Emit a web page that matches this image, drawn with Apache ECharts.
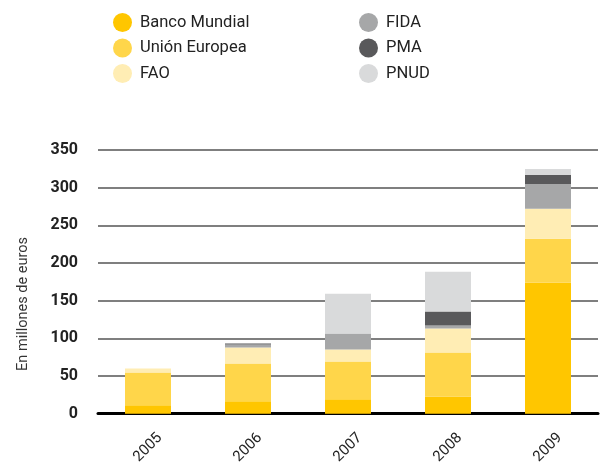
<!DOCTYPE html>
<html>
<head>
<meta charset="utf-8">
<script src="https://cdn.jsdelivr.net/npm/echarts@6/dist/echarts.min.js"></script>
<style>
  html, body { margin: 0; padding: 0; background: #fff; }
  #chart { width: 616px; height: 467px; }
</style>
</head>
<body>
<div id="chart"></div>
<script>
// datos (millones de euros)
var years = ['2005', '2006', '2007', '2008', '2009'];
var bancoMundial  = [11, 16.3, 19, 22.9, 173.9];
var unionEuropea  = [43.7, 50.3, 50.3, 58.3, 58.3];
var fao           = [5.3, 21.2, 15.9, 31.8, 39.7];
var fida          = [0, 4, 21.2, 4, 33.1];
var pma           = [0, 1.3, 0, 18.5, 11.9];
var pnud          = [0, 0, 52.9, 53, 7.9];
var yTicks = [0, 50, 100, 150, 200, 250, 300, 350];

var font = 'Roboto';
var colors = ['#FFC600', '#FFD64A', '#FFEDB4', '#A6A7A8', '#59595B', '#D9DADB'];

function serie(name, data) {
  return {
    name: name,
    type: 'bar',
    stack: 'total',
    barWidth: 46,
    data: data
  };
}

function leyenda(left, names) {
  return {
    left: left, top: 8,
    orient: 'vertical',
    icon: 'circle',
    itemWidth: 19, itemHeight: 19,
    itemGap: 6.5,
    textStyle: { fontSize: 16.5, color: '#222', fontFamily: font, padding: [0, 0, 0, 3] },
    data: names
  };
}

var chart = echarts.init(document.getElementById('chart'));

var option = {
  animation: false,
  color: colors,
  textStyle: { fontFamily: font },
  legend: [
    leyenda(108, ['Banco Mundial', 'Unión Europea', 'FAO']),
    leyenda(354, ['FIDA', 'PMA', 'PNUD'])
  ],
  grid: { left: 98, width: 500, top: 150, bottom: 52 },
  xAxis: {
    type: 'category',
    data: years,
    axisLine: { lineStyle: { color: '#000', width: 3 } },
    axisTick: { show: false },
    axisLabel: {
      rotate: 45,
      align: 'center',
      verticalAlign: 'middle',
      margin: 34,
      fontSize: 15,
      color: '#222',
      fontFamily: font
    }
  },
  yAxis: {
    type: 'value',
    min: yTicks[0],
    max: yTicks[yTicks.length - 1],
    interval: 50,
    axisLine: { show: false },
    axisTick: { show: false },
    axisLabel: {
      margin: 20,
      fontSize: 16,
      fontWeight: 'bold',
      color: '#222',
      fontFamily: font
    },
    splitLine: { lineStyle: { color: '#555', width: 1.5 } }
  },
  graphic: [
    {
      type: 'text',
      x: 23, y: 304,
      rotation: Math.PI / 2,
      style: {
        text: 'En millones de euros',
        fontSize: 14.5,
        fontFamily: font,
        fill: '#333',
        align: 'center',
        verticalAlign: 'middle'
      }
    }
  ],
  series: [
    serie('Banco Mundial', bancoMundial),
    serie('Unión Europea', unionEuropea),
    serie('FAO', fao),
    serie('FIDA', fida),
    serie('PMA', pma),
    serie('PNUD', pnud)
  ]
};

chart.setOption(option);
</script>
</body>
</html>
